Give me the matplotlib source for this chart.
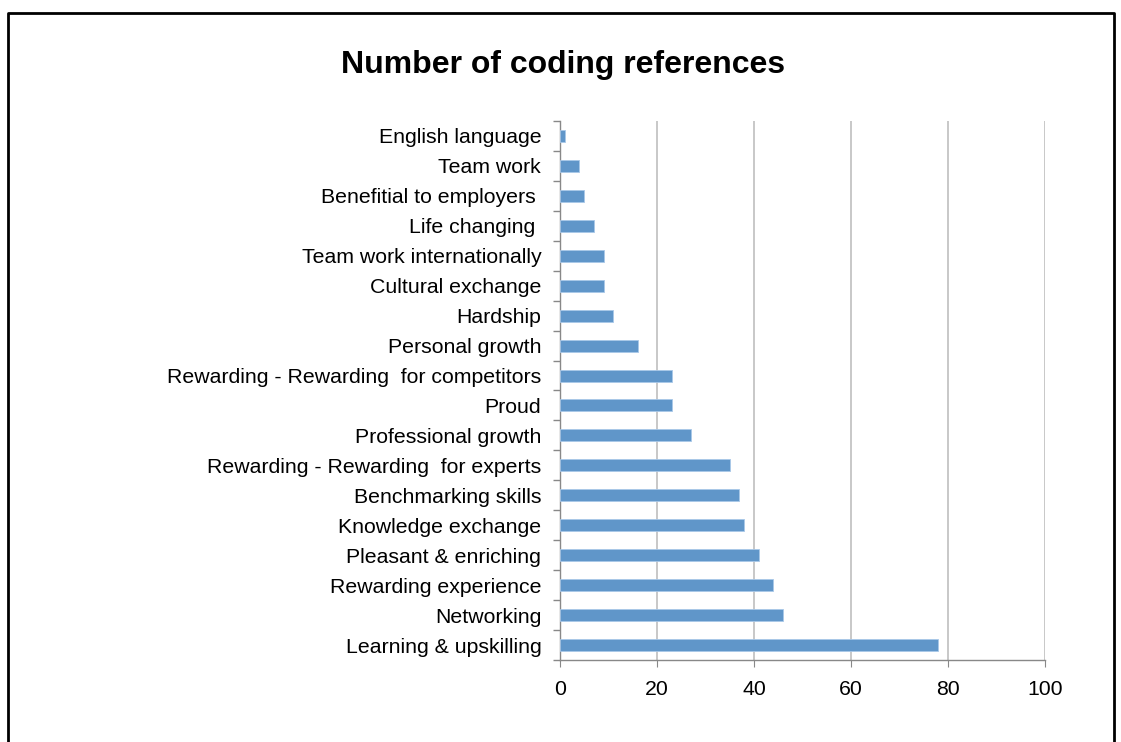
import matplotlib.pyplot as plt
from matplotlib.lines import Line2D

plt.rcParams['font.family'] = ['Liberation Sans', 'DejaVu Sans']

categories = ["Learning & upskilling", "Networking", "Rewarding experience",
              "Pleasant & enriching", "Knowledge exchange", "Benchmarking skills",
              "Rewarding - Rewarding  for experts", "Professional growth", "Proud",
              "Rewarding - Rewarding  for competitors", "Personal growth", "Hardship",
              "Cultural exchange", "Team work internationally", "Life changing ",
              "Benefitial to employers ", "Team work", "English language"]
counts = [78, 46, 44, 41, 38, 37, 35, 27, 23, 23, 16, 11, 9, 9, 7, 5, 4, 1]
xticks = [0, 20, 40, 60, 80, 100]

fig = plt.figure(figsize=(11.21, 7.42), dpi=100)
ax = fig.add_axes([560 / 1121, 1 - 660 / 742, 485 / 1121, 539 / 742])

pos = list(range(len(categories)))
ax.barh(pos, counts, height=0.4, color="#6096c9", edgecolor="#a9c8e8", linewidth=0.6, zorder=3)
ax.set_ylim(-0.5, len(categories) - 0.5)
ax.set_xlim(0, 100)
ax.set_yticks(pos)
ax.set_yticklabels(categories, fontsize=15.3, va="center_baseline")
ax.set_yticks([p + 0.5 for p in pos[:-1]] + [-0.5, len(categories) - 0.5], minor=True)
ax.tick_params(axis="y", which="major", length=0, pad=13.5)
ax.tick_params(axis="y", which="minor", length=5, color="#888888", width=1)
ax.set_xticks(xticks)
ax.tick_params(axis="x", labelsize=15.3, length=5, color="#888888", pad=9.5)
ax.grid(axis="x", color="#bfbfbf", linewidth=1.2, zorder=0)

for s in ["top", "right"]:
    ax.spines[s].set_visible(False)
for s in ["left", "bottom"]:
    ax.spines[s].set_color("#888888")
    ax.spines[s].set_linewidth(1)

fig.text(563 / 1121, 1 - 65 / 742, "Number of coding references", ha="center", va="center",
         fontsize=23, fontweight="bold")

# outer border of the chart area
fig.add_artist(Line2D([8 / 1121, 8 / 1121, 1114 / 1121, 1114 / 1121],
                      [0, 1 - 13 / 742, 1 - 13 / 742, 0],
                      transform=fig.transFigure, color="black", linewidth=2))

fig.savefig("out.png", dpi=100)
